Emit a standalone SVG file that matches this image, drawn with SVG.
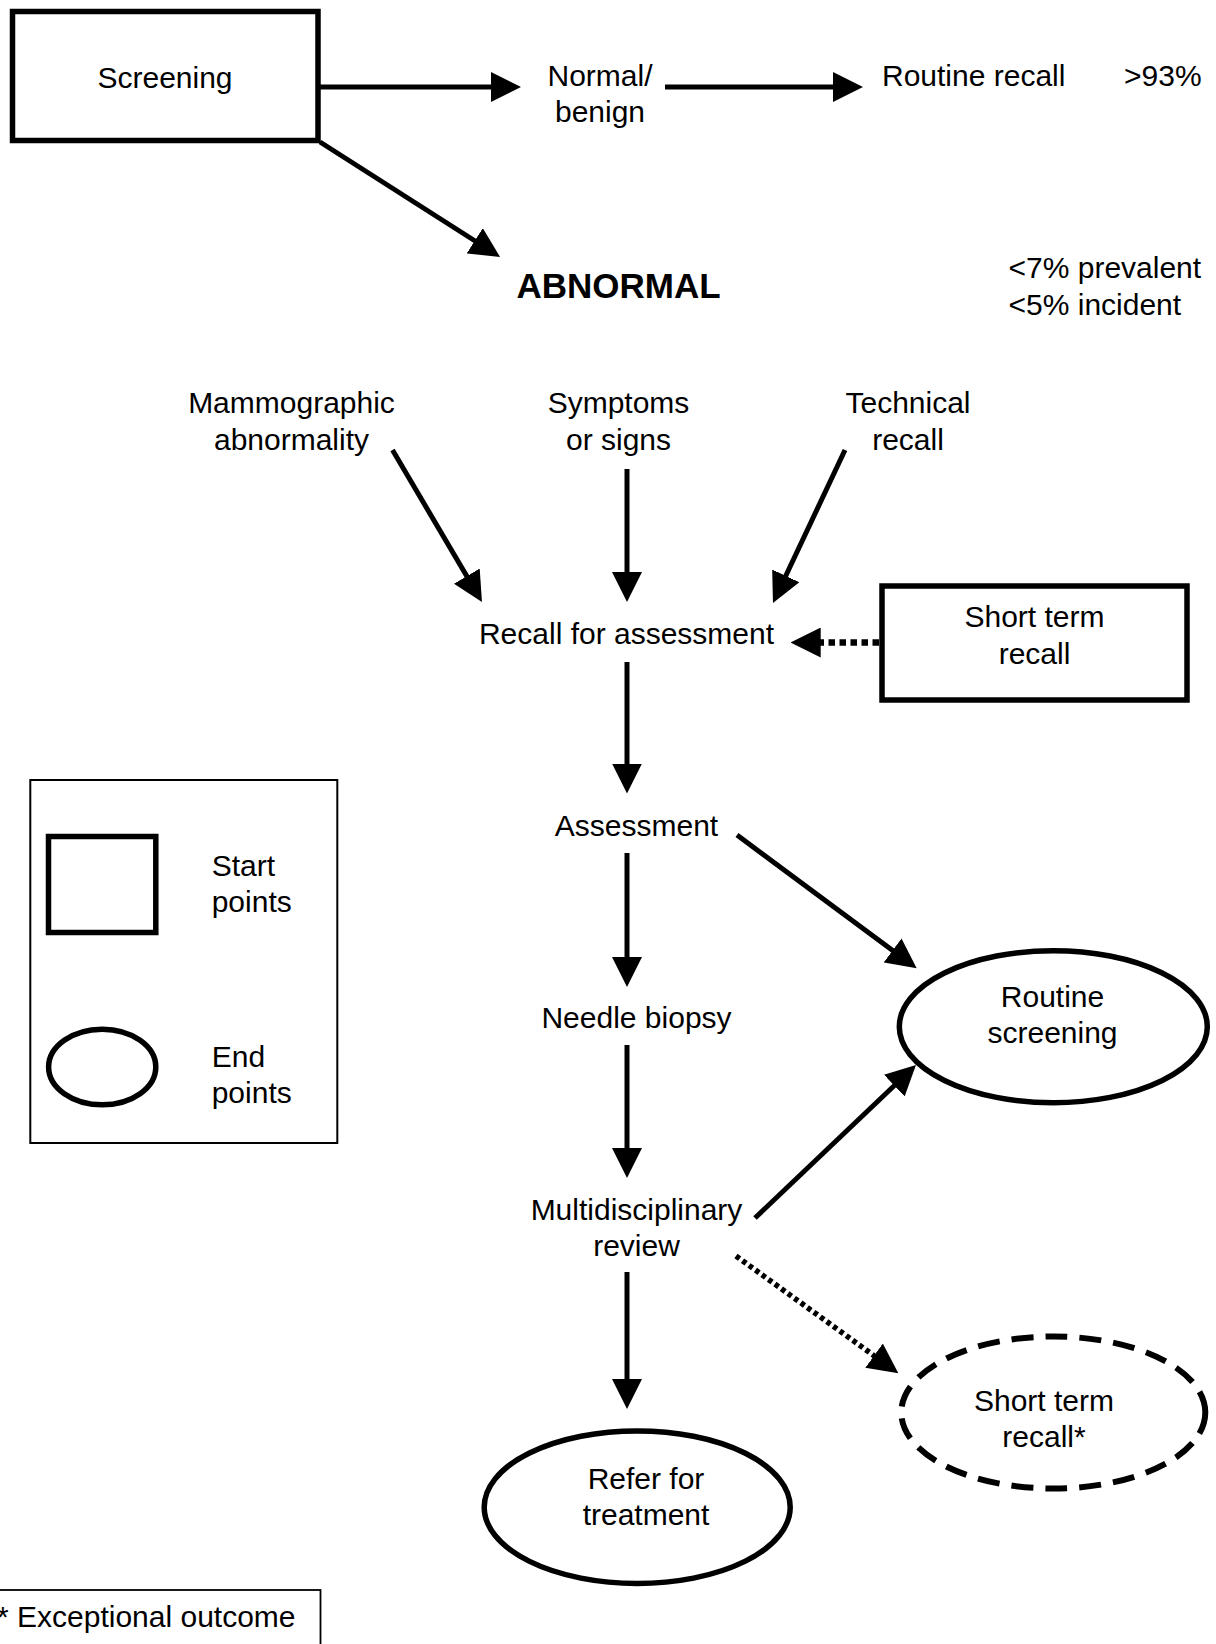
<svg xmlns="http://www.w3.org/2000/svg" width="1216" height="1644" viewBox="0 0 1216 1644">
<style>
text{font-family:"Liberation Sans",Arial,sans-serif;font-size:30px;fill:#000}
.c{text-anchor:middle}
.b{font-weight:bold;font-size:35px}
.box{fill:#fff;stroke:#000;stroke-width:5.5}
.ell{fill:#fff;stroke:#000;stroke-width:5.5}
.dash{fill:none;stroke:#000;stroke-width:6;stroke-dasharray:22 12}
.thin{fill:none;stroke:#000;stroke-width:2}
.arr{fill:none;stroke:#000;stroke-width:5;marker-end:url(#ah)}
.dot{fill:none;stroke:#000;marker-end:url(#ah)}
</style>
<defs>
<marker id="ah" markerUnits="userSpaceOnUse" viewBox="0 0 30 30" markerWidth="30" markerHeight="30" refX="6" refY="15" orient="auto">
<path d="M0,0 L30,15 L0,30 Z" fill="#000"/>
</marker>
</defs>
<rect width="1216" height="1644" fill="#fff"/>

<g id="connectors">
<line class="arr" x1="320" y1="87" x2="497" y2="87"/>
<line class="arr" x1="665" y1="87" x2="839" y2="87"/>
<line class="arr" x1="320" y1="142" x2="479.8" y2="244"/>
<line class="arr" x1="392.5" y1="450" x2="469.8" y2="581.3"/>
<line class="arr" x1="627" y1="469" x2="627" y2="578"/>
<line class="arr" x1="845" y1="450" x2="783.2" y2="581.3"/>
<line class="dot" x1="879" y1="642.5" x2="814.7" y2="642.5" stroke-width="6.5" stroke-dasharray="6.5 4.5"/>
<line class="arr" x1="627" y1="662" x2="627" y2="769.5"/>
<line class="arr" x1="627" y1="853" x2="627" y2="963"/>
<line class="arr" x1="737" y1="835" x2="897.4" y2="954"/>
<line class="arr" x1="627" y1="1045" x2="627" y2="1154"/>
<line class="arr" x1="755" y1="1218" x2="898.6" y2="1081.5"/>
<line class="arr" x1="627" y1="1272" x2="627" y2="1385"/>
<line class="dot" x1="736" y1="1256" x2="878.9" y2="1359.2" stroke-width="5.5" stroke-dasharray="4.5 3.5"/>
</g>

<g id="screening">
<rect class="box" x="12.5" y="11.5" width="305.5" height="129"/>
<text class="c" x="165" y="88">Screening</text>
</g>
<g id="normal-benign">
<text class="c" x="600" y="86">Normal/</text>
<text class="c" x="600" y="122">benign</text>
</g>
<g id="routine-recall">
<text x="882" y="86">Routine recall</text>
</g>
<g id="pct-93">
<text x="1124" y="86">&gt;93%</text>
</g>
<g id="abnormal">
<text class="c b" x="618.5" y="298">ABNORMAL</text>
</g>
<g id="pct-abnormal">
<text x="1008.5" y="278">&lt;7% prevalent</text>
<text x="1008.5" y="315">&lt;5% incident</text>
</g>
<g id="mammographic">
<text class="c" x="291.5" y="413">Mammographic</text>
<text class="c" x="291.5" y="450">abnormality</text>
</g>
<g id="symptoms">
<text class="c" x="618.5" y="413">Symptoms</text>
<text class="c" x="618.5" y="450">or signs</text>
</g>
<g id="technical">
<text class="c" x="908" y="413">Technical</text>
<text class="c" x="908" y="450">recall</text>
</g>
<g id="recall-assessment">
<text class="c" x="626.5" y="644">Recall for assessment</text>
</g>
<g id="short-term-recall-box">
<rect class="box" x="882" y="586" width="305" height="114"/>
<text class="c" x="1034.5" y="627">Short term</text>
<text class="c" x="1034.5" y="664">recall</text>
</g>
<g id="assessment">
<text class="c" x="636.5" y="836">Assessment</text>
</g>
<g id="needle-biopsy">
<text class="c" x="636.5" y="1028">Needle biopsy</text>
</g>
<g id="multidisciplinary">
<text class="c" x="636.5" y="1220">Multidisciplinary</text>
<text class="c" x="636.5" y="1256">review</text>
</g>
<g id="routine-screening">
<ellipse class="ell" cx="1053.3" cy="1026.7" rx="154" ry="76"/>
<text class="c" x="1052.5" y="1007">Routine</text>
<text class="c" x="1052.5" y="1043">screening</text>
</g>
<g id="refer-treatment">
<ellipse class="ell" cx="637.2" cy="1507.2" rx="153" ry="76.3"/>
<text class="c" x="646" y="1489">Refer for</text>
<text class="c" x="646" y="1525">treatment</text>
</g>
<g id="short-term-recall-end">
<ellipse class="dash" cx="1053.3" cy="1412.5" rx="152" ry="76"/>
<text class="c" x="1044" y="1411">Short term</text>
<text class="c" x="1044" y="1447">recall*</text>
</g>
<g id="legend">
<rect class="thin" x="30.3" y="780" width="307" height="363"/>
<rect class="box" x="48.5" y="836.5" width="107.3" height="96" stroke-width="5"/>
<text x="211.7" y="876">Start</text>
<text x="211.7" y="912">points</text>
<ellipse class="ell" cx="102.2" cy="1067" rx="53.6" ry="37.8" stroke-width="5"/>
<text x="211.7" y="1067">End</text>
<text x="211.7" y="1103">points</text>
</g>
<g id="footnote">
<rect fill="none" stroke="#000" stroke-width="1.8" x="-5" y="1590" width="325.5" height="70"/>
<text x="-3" y="1627">* Exceptional outcome</text>
</g>
</svg>
